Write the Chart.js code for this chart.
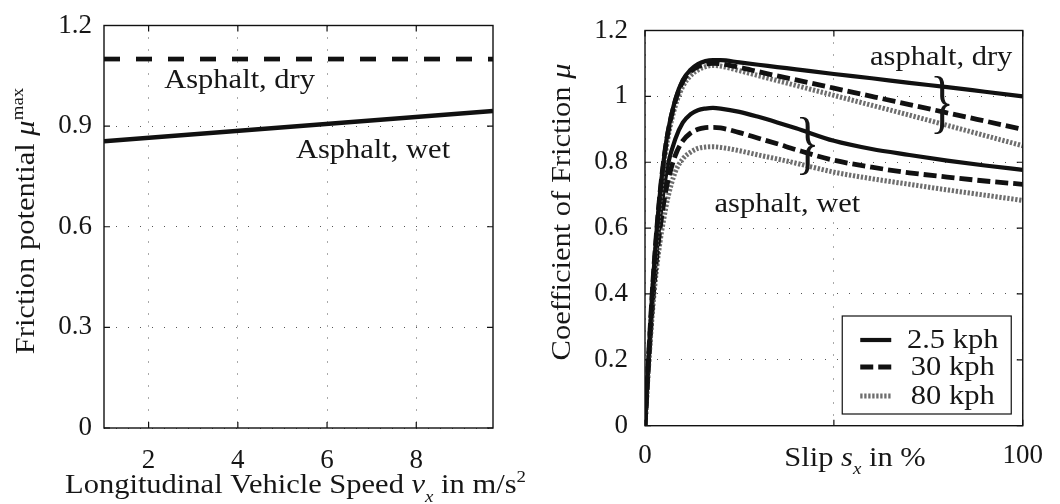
<!DOCTYPE html>
<html><head><meta charset="utf-8">
<script src="https://cdn.jsdelivr.net/npm/chart.js@4/dist/chart.umd.min.js"></script>
<style>
html,body{margin:0;padding:0;background:#fff;width:1060px;height:504px;overflow:hidden}
canvas{position:absolute;left:0;top:0}
</style></head><body>
<canvas id="c1" width="1060" height="504"></canvas>
<canvas id="c2" width="1060" height="504"></canvas>
<script>
// ---------- data (left chart) ----------
const speedX   = [1, 9.72];
const muMaxDry = [1.1, 1.1];
const muMaxWet = [0.855, 0.945];
const leftXTicks  = [2, 4, 6, 8];
const leftXLabels = ['2', '4', '6', '8'];
const leftYTicks  = [0, 0.3, 0.6, 0.9, 1.2];
const leftYLabels = ['0', '0.3', '0.6', '0.9', '1.2'];

// ---------- data (right chart) ----------
const slip  = [0, 1, 2, 3, 4, 5, 6, 8, 10, 12, 14, 16, 18, 20, 25, 30, 35, 40, 50, 60, 70, 80, 90, 100];
const dry25 = [0, 0.22, 0.42, 0.58, 0.71, 0.81, 0.89, 0.99, 1.05, 1.08, 1.098, 1.107, 1.11, 1.11, 1.103, 1.096, 1.089, 1.082, 1.068, 1.055, 1.041, 1.028, 1.014, 1.0];
const dry30 = [0, 0.22, 0.42, 0.58, 0.71, 0.81, 0.885, 0.985, 1.045, 1.075, 1.09, 1.098, 1.10, 1.099, 1.088, 1.075, 1.062, 1.05, 1.025, 1.0, 0.975, 0.95, 0.925, 0.90];
const dry80 = [0, 0.21, 0.40, 0.56, 0.69, 0.79, 0.87, 0.97, 1.03, 1.062, 1.08, 1.09, 1.094, 1.092, 1.078, 1.063, 1.048, 1.033, 1.003, 0.973, 0.943, 0.912, 0.881, 0.85];
const wet25 = [0, 0.20, 0.38, 0.52, 0.63, 0.72, 0.79, 0.87, 0.92, 0.945, 0.958, 0.963, 0.965, 0.963, 0.953, 0.938, 0.921, 0.903, 0.865, 0.84, 0.822, 0.805, 0.79, 0.777];
const wet30 = [0, 0.20, 0.37, 0.50, 0.60, 0.68, 0.74, 0.82, 0.865, 0.888, 0.90, 0.905, 0.906, 0.904, 0.89, 0.873, 0.856, 0.838, 0.806, 0.785, 0.768, 0.755, 0.743, 0.733];
const wet80 = [0, 0.19, 0.35, 0.47, 0.56, 0.63, 0.69, 0.77, 0.81, 0.83, 0.842, 0.846, 0.847, 0.845, 0.835, 0.822, 0.81, 0.797, 0.77, 0.75, 0.733, 0.716, 0.70, 0.684];
const rightXTicks  = [0, 50, 100];
const rightXLabels = ['0', '', '100'];
const rightYTicks  = [0, 0.2, 0.4, 0.6, 0.8, 1, 1.2];
const rightYLabels = ['0', '0.2', '0.4', '0.6', '0.8', '1', '1.2'];
const legendLabels = ['2.5 kph', '30 kph', '80 kph'];

// ---------- styling helpers ----------
const FAM = '"Liberation Serif", "Times New Roman", serif';
const FS = 27, STRETCH = 1.13, TXT = '#161616';
function fontFor(p) {
  const s = (p.sup || p.sub) ? FS * 0.62 : FS;
  return (p.it ? 'italic ' : '') + s + 'px ' + FAM;
}
function drawRich(ctx, parts, cx, cy, rot) {
  ctx.save();
  ctx.translate(cx, cy);
  if (rot) ctx.rotate(rot);
  ctx.scale(STRETCH, 1);
  let w = 0;
  parts.forEach(p => { ctx.font = fontFor(p); w += ctx.measureText(p.t).width; });
  let x = -w / 2;
  ctx.textBaseline = 'alphabetic';
  ctx.textAlign = 'left';
  ctx.fillStyle = TXT;
  parts.forEach(p => {
    ctx.font = fontFor(p);
    const dy = p.sup ? -FS * 0.42 : (p.sub ? FS * 0.32 : 0);
    ctx.fillText(p.t, x, FS * 0.33 + dy);
    x += ctx.measureText(p.t).width;
  });
  ctx.restore();
}
// curly brace drawn as a text glyph, fitted to height h and width wTarget
function drawBrace(ctx, cx, cy, h, wTarget) {
  ctx.save();
  ctx.font = '100px ' + FAM;
  const m = ctx.measureText('}');
  const gh = m.actualBoundingBoxAscent + m.actualBoundingBoxDescent;
  const gw = m.actualBoundingBoxLeft + m.actualBoundingBoxRight;
  const k = h / gh;
  const sx = wTarget / (gw * k);
  ctx.translate(cx, cy);
  ctx.scale(sx * k, k);
  ctx.textAlign = 'left';
  ctx.textBaseline = 'alphabetic';
  ctx.fillStyle = TXT;
  const ox = -(m.actualBoundingBoxRight - m.actualBoundingBoxLeft) / 2;
  const oy = (m.actualBoundingBoxAscent - m.actualBoundingBoxDescent) / 2;
  ctx.fillText('}', ox, oy);
  ctx.restore();
}

const decoPlugin = {
  id: 'deco',
  afterDraw(chart, args, o) {
    const ctx = chart.ctx, a = chart.chartArea, xs = chart.scales.x, ys = chart.scales.y;
    ctx.save();
    ctx.setLineDash([]);
    // frame
    ctx.strokeStyle = '#111';
    ctx.lineWidth = 1.4;
    ctx.strokeRect(a.left, a.top, a.right - a.left, a.bottom - a.top);
    // inward ticks on all four sides
    const tl = 6;
    ctx.lineWidth = 1.2;
    ctx.beginPath();
    xs.ticks.forEach(t => {
      const px = xs.getPixelForValue(t.value);
      ctx.moveTo(px, a.bottom); ctx.lineTo(px, a.bottom - tl);
      ctx.moveTo(px, a.top); ctx.lineTo(px, a.top + tl);
    });
    ys.ticks.forEach(t => {
      const py = ys.getPixelForValue(t.value);
      ctx.moveTo(a.left, py); ctx.lineTo(a.left + tl, py);
      ctx.moveTo(a.right, py); ctx.lineTo(a.right - tl, py);
    });
    ctx.stroke();
    // axis titles
    drawRich(ctx, o.xTitle, o.xTitlePos[0], a.bottom + o.xTitlePos[1], 0);
    drawRich(ctx, o.yTitle, o.yTitlePos[0], o.yTitlePos[1], -Math.PI / 2);
    // text annotations (data coordinates)
    (o.notes || []).forEach(n => drawRich(ctx, [{ t: n.t }], xs.getPixelForValue(n.x), ys.getPixelForValue(n.y), 0));
    (o.braces || []).forEach(b => {
      const y1 = ys.getPixelForValue(b.y + b.h / 2), y2 = ys.getPixelForValue(b.y - b.h / 2);
      drawBrace(ctx, xs.getPixelForValue(b.x), (y1 + y2) / 2, y2 - y1, b.w);
    });
    // legend box
    if (o.legend) {
      const L = o.legend;
      const bx = a.right - L.right - L.w, by = a.bottom - L.bottom - L.h;
      ctx.fillStyle = '#fff';
      ctx.fillRect(bx, by, L.w, L.h);
      ctx.strokeStyle = '#111';
      ctx.lineWidth = 1.2;
      ctx.strokeRect(bx, by, L.w, L.h);
      const items = chart.data.datasets.slice(0, 3);
      items.forEach((ds, i) => {
        const ry = by + L.rows[i];
        ctx.save();
        ctx.strokeStyle = ds.borderColor;
        ctx.lineWidth = ds.borderWidth;
        ctx.setLineDash(ds.borderDash || []);
        ctx.beginPath();
        ctx.moveTo(bx + 18, ry); ctx.lineTo(bx + 49, ry);
        ctx.stroke();
        ctx.restore();
        drawRich(ctx, [{ t: legendLabels[i] }], bx + 110.5, ry - 1, 0);
      });
    }
    ctx.restore();
  }
};

function fixTicks(values) {
  return function (scale) { scale.ticks = values.map(v => ({ value: v })); };
}
function gridOpts() {
  return { color: '#555', lineWidth: 1, drawTicks: false };
}
const tickFont = { family: FAM, size: FS, lineHeight: 1 };

// ---------- left chart ----------
new Chart(document.getElementById('c1'), {
  type: 'line',
  data: {
    datasets: [
      { label: 'Asphalt, dry', data: speedX.map((x, i) => ({ x, y: muMaxDry[i] })),
        borderColor: '#111', borderWidth: 4.7, borderDash: [16, 16], borderCapStyle: 'butt', pointRadius: 0, fill: false },
      { label: 'Asphalt, wet', data: speedX.map((x, i) => ({ x, y: muMaxWet[i] })),
        borderColor: '#111', borderWidth: 4.5, pointRadius: 0, fill: false }
    ]
  },
  options: {
    responsive: false, animation: false, events: [],
    layout: { padding: { left: 0, top: 17.5, right: 567, bottom: 0 } },
    plugins: {
      legend: { display: false }, tooltip: { enabled: false },
      deco: {
        xTitle: [{ t: 'Longitudinal Vehicle Speed ' }, { t: 'v', it: true }, { t: 'x', it: true, sub: true }, { t: ' in m/s' }, { t: '2', sup: true }],
        xTitlePos: [295.5, 56],
        yTitle: [{ t: 'Friction potential ' }, { t: 'μ', it: true }, { t: 'max', sup: true }],
        yTitlePos: [25, 221],
        notes: [{ t: 'Asphalt, dry', x: 4.04, y: 1.04 }, { t: 'Asphalt, wet', x: 7.03, y: 0.833 }]
      }
    },
    scales: {
      x: {
        type: 'linear', min: 1, max: 9.72,
        afterBuildTicks: fixTicks(leftXTicks),
        afterFit: s => { s.height = 76; },
        grid: gridOpts(), border: { display: false, dash: [1, 11] },
        ticks: { font: tickFont, color: TXT, padding: 19, maxRotation: 0, autoSkip: false,
          callback: (v, i) => leftXLabels[i] }
      },
      y: {
        type: 'linear', min: 0, max: 1.2,
        afterBuildTicks: fixTicks(leftYTicks),
        afterFit: s => { s.width = 104; },
        grid: gridOpts(), border: { display: false, dash: [1, 11] },
        ticks: { font: tickFont, color: TXT, padding: 12, autoSkip: false,
          callback: (v, i) => leftYLabels[i] }
      }
    }
  },
  plugins: [decoPlugin]
});

// ---------- right chart ----------
function series(arr) { return slip.map((s, i) => ({ x: s, y: arr[i] })); }
const solid  = { borderColor: '#111', borderWidth: 4.2, borderDash: [] };
const dashed = { borderColor: '#111', borderWidth: 4.8, borderDash: [13, 5], borderCapStyle: 'butt' };
const dotted = { borderColor: '#6e6e6e', borderWidth: 5, borderDash: [2.3, 1.7], borderCapStyle: 'butt' };
function ds(label, arr, st) {
  return Object.assign({ label, data: series(arr), pointRadius: 0, fill: false, cubicInterpolationMode: 'monotone' }, st);
}
new Chart(document.getElementById('c2'), {
  type: 'line',
  data: {
    datasets: [
      ds('dry 2.5 kph', dry25, solid),
      ds('dry 30 kph', dry30, dashed),
      ds('dry 80 kph', dry80, dotted),
      ds('wet 2.5 kph', wet25, solid),
      ds('wet 30 kph', wet30, dashed),
      ds('wet 80 kph', wet80, dotted)
    ]
  },
  options: {
    responsive: false, animation: false, events: [],
    layout: { padding: { left: 0, top: 15, right: 26.5, bottom: 0 } },
    plugins: {
      legend: { display: false }, tooltip: { enabled: false },
      deco: {
        xTitle: [{ t: 'Slip ' }, { t: 's', it: true }, { t: 'x', it: true, sub: true }, { t: ' in %' }],
        xTitlePos: [855, 31],
        yTitle: [{ t: 'Coefficient of Friction ' }, { t: 'μ', it: true }],
        yTitlePos: [561, 212],
        notes: [{ t: 'asphalt, dry', x: 78.4, y: 1.122 }, { t: 'asphalt, wet', x: 37.7, y: 0.675 }],
        braces: [{ x: 78.6, y: 0.974, h: 0.178, w: 15 }, { x: 43.0, y: 0.85, h: 0.178, w: 15 }],
        legend: { right: 11.5, bottom: 11.7, w: 169, h: 98, rows: [24, 51, 80] }
      }
    },
    scales: {
      x: {
        type: 'linear', min: 0, max: 100,
        afterBuildTicks: fixTicks(rightXTicks),
        afterFit: s => { s.height = 78.3; },
        grid: gridOpts(), border: { display: false, dash: [1, 11] },
        ticks: { font: tickFont, color: TXT, padding: 17, maxRotation: 0, autoSkip: false,
          callback: (v, i) => rightXLabels[i] }
      },
      y: {
        type: 'linear', min: 0, max: 1.2,
        afterBuildTicks: fixTicks(rightYTicks),
        afterFit: s => { s.width = 645; },
        grid: gridOpts(), border: { display: false, dash: [1, 11] },
        ticks: { font: tickFont, color: TXT, padding: 17, autoSkip: false,
          callback: (v, i) => rightYLabels[i] }
      }
    }
  },
  plugins: [decoPlugin]
});
</script>
</body></html>
